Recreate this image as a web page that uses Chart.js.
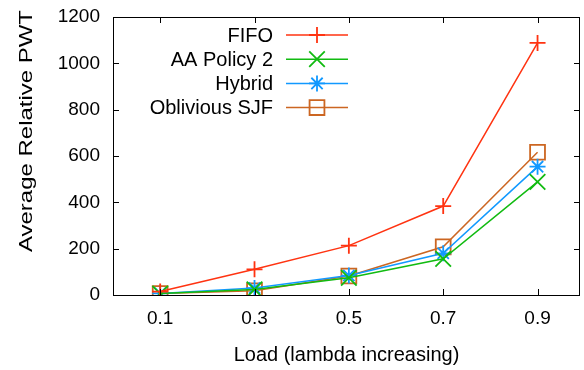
<!DOCTYPE html>
<html>
<head>
<meta charset="utf-8">
<script src="https://cdn.jsdelivr.net/npm/chart.js@4.4.0/dist/chart.umd.min.js"></script>
<style>
  html, body { margin: 0; padding: 0; background: #fff; }
  #wrap { width: 584px; height: 370px; }
</style>
</head>
<body>
<div id="wrap"><canvas id="myChart" width="584" height="370"></canvas></div>
<script>
// load values on the x axis
const loads = [0.1, 0.3, 0.5, 0.7, 0.9];
// average relative PWT per policy
const fifo = [15, 111, 213, 384, 1088];
const aaPolicy2 = [6, 24, 74, 156, 488];
const hybrid = [7, 30, 84, 180, 554];
const obliviousSJF = [6, 18, 82, 208, 616];
const yTicks = [0, 200, 400, 600, 800, 1000, 1200];
const yTitle = 'Average Relative PWT';

const family = 'Liberation Sans, Arial, Helvetica, sans-serif';
const tickFont = { family: family, size: 19 };
const titleFont = { family: family, size: 20 };

function pts(vals) {
    return loads.map((x, i) => ({ x: x, y: vals[i] }));
}

// gnuplot-style frame with inward ticks on all four sides
const framePlugin = {
    id: 'frame',
    afterDraw(chart) {
        const ctx = chart.ctx;
        const a = chart.chartArea;
        const xs = chart.scales.x;
        const ys = chart.scales.y;
        ctx.save();
        ctx.strokeStyle = '#000';
        ctx.lineWidth = 1;
        ctx.strokeRect(a.left + 0.5, a.top + 0.5, a.right - a.left - 1, a.bottom - a.top);
        ctx.beginPath();
        yTicks.forEach(v => {
            const y = Math.round(ys.getPixelForValue(v)) + 0.5;
            ctx.moveTo(a.left, y); ctx.lineTo(a.left + 6, y);
            ctx.moveTo(a.right, y); ctx.lineTo(a.right - 6, y);
        });
        loads.forEach(v => {
            const x = Math.round(xs.getPixelForValue(v)) + 0.5;
            ctx.moveTo(x, a.bottom); ctx.lineTo(x, a.bottom - 6);
            ctx.moveTo(x, a.top); ctx.lineTo(x, a.top + 6);
        });
        ctx.stroke();

        // rotated y title, stretched along its length like the original
        ctx.translate(27, 131);
        ctx.rotate(-Math.PI / 2);
        ctx.font = '18px ' + family;
        const w = ctx.measureText(yTitle).width;
        ctx.scale(242 / w, 1);
        ctx.fillStyle = '#000';
        ctx.textAlign = 'center';
        ctx.textBaseline = 'middle';
        ctx.fillText(yTitle, 0, 0);
        ctx.restore();
    }
};

// key in the top-left: text right aligned, sample on the right
const keyPlugin = {
    id: 'key',
    afterDraw(chart) {
        const ctx = chart.ctx;
        const a = chart.chartArea;
        const textRight = a.left + 160;
        const lineStart = a.left + 173;
        const lineEnd = a.left + 235;
        ctx.save();
        ctx.font = '20px ' + family;
        ctx.textAlign = 'right';
        ctx.textBaseline = 'middle';
        chart.data.datasets.forEach((ds, i) => {
            const y = a.top + 18 + i * 24.2;
            ctx.fillStyle = '#000';
            ctx.fillText(ds.label, textRight, y + 1);
            ctx.strokeStyle = ds.borderColor;
            ctx.lineWidth = ds.borderWidth;
            ctx.beginPath();
            ctx.moveTo(lineStart, y); ctx.lineTo(lineEnd, y);
            ctx.stroke();
            ctx.lineWidth = ds.pointBorderWidth;
            ctx.fillStyle = 'rgba(0,0,0,0)';
            Chart.helpers.drawPoint(ctx, {
                pointStyle: ds.pointStyle,
                radius: ds.pointRadius,
                rotation: 0,
                borderWidth: ds.pointBorderWidth
            }, (lineStart + lineEnd) / 2, y);
        });
        ctx.restore();
    }
};

function series(label, vals, color, style, radius) {
    return {
        label: label,
        data: pts(vals),
        borderColor: color,
        backgroundColor: 'rgba(0,0,0,0)',
        borderWidth: 1.5,
        pointStyle: style,
        pointRadius: radius,
        pointBorderWidth: 1.8,
        pointBorderColor: color,
        pointBackgroundColor: 'rgba(0,0,0,0)',
        tension: 0
    };
}

const ctx = document.getElementById('myChart').getContext('2d');
const myChart = new Chart(ctx, {
    type: 'line',
    data: {
        datasets: [
            series('FIFO', fifo, '#ff3311', 'cross', 8),
            series('AA Policy 2', aaPolicy2, '#11bb11', 'crossRot', 11),
            series('Hybrid', hybrid, '#1199ff', 'star', 8),
            series('Oblivious SJF', obliviousSJF, '#cc6622', 'rect', 10.5)
        ]
    },
    options: {
        responsive: false,
        animation: false,
        layout: { autoPadding: false, padding: { top: 17, right: 4, left: 0, bottom: 0 } },
        plugins: { legend: { display: false }, tooltip: { enabled: false } },
        scales: {
            x: {
                type: 'linear',
                min: 0,
                max: 0.99,
                afterBuildTicks: s => { s.ticks = loads.map(v => ({ value: v })); },
                afterFit: s => { s.height = 75; s.paddingLeft = 0; s.paddingRight = 0; },
                grid: { display: false, drawTicks: false },
                border: { display: false },
                ticks: {
                    color: '#000', font: tickFont, padding: 12, maxRotation: 0,
                    callback: v => v.toFixed(1)
                },
                title: {
                    display: true, text: 'Load (lambda increasing)',
                    color: '#000', font: titleFont, padding: { top: 4, bottom: 3 }
                }
            },
            y: {
                min: 0,
                max: 1200,
                afterBuildTicks: s => { s.ticks = yTicks.map(v => ({ value: v })); },
                afterFit: s => { s.width = 113; s.paddingTop = 0; s.paddingBottom = 0; },
                grid: { display: false, drawTicks: false },
                border: { display: false },
                ticks: { color: '#000', font: tickFont, padding: 13, callback: v => String(v) }
            }
        }
    },
    plugins: [framePlugin, keyPlugin]
});
</script>
</body>
</html>
